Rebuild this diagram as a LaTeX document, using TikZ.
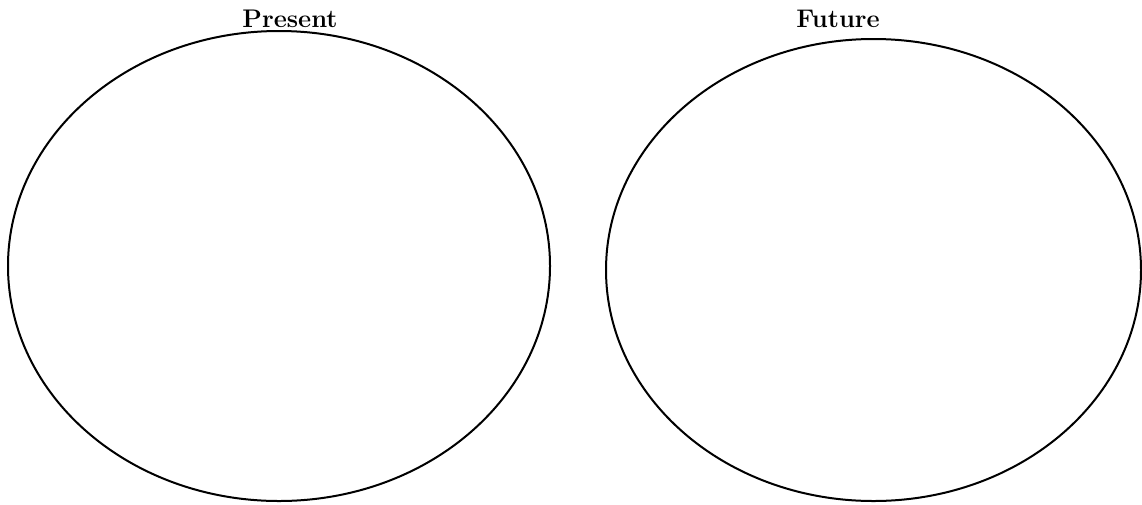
\documentclass[tikz,border=0pt]{standalone}
\usepackage{tikz}
\usetikzlibrary{shapes.geometric,positioning}

\begin{document}
\begin{tikzpicture}[
    x=1pt, y=-1pt,
    oval/.style={ellipse, draw, line width=2pt, inner sep=0pt},
    title/.style={font=\fontsize{25.5}{30}\selectfont\bfseries, anchor=base}
]
    \useasboundingbox (0,0) rectangle (1142,504);

    % Two ovals
    \node[oval, minimum width=542pt, minimum height=470pt] (present) at (279,266) {};
    \node[oval, minimum width=535pt, minimum height=462pt] (future) at (873.5,270) {};

    % Titles
    \node[title] (presenttitle) at (290,27) {Present};
    \node[title] (futuretitle) at (838,27) {Future};
\end{tikzpicture}
\end{document}
